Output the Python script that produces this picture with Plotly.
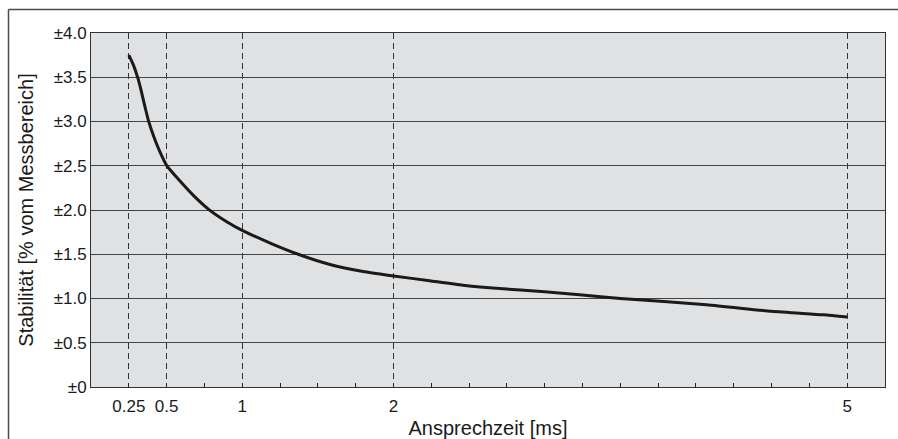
import plotly.graph_objects as go

# Data
response_time_ms = [0.25, 0.28, 0.31, 0.33, 0.355, 0.38, 0.415, 0.45, 0.5, 0.59, 0.68,
                    0.78, 0.9, 1.0, 1.2, 1.37, 1.58, 1.8, 2.0, 2.24, 2.46, 2.68, 3.0,
                    3.23, 3.5, 4.07, 4.5, 4.84, 5.0]
stability_pct = [3.75, 3.64, 3.49, 3.36, 3.18, 3.01, 2.83, 2.68, 2.505, 2.325, 2.16,
                 2.005, 1.865, 1.77, 1.615, 1.50, 1.385, 1.305, 1.255, 1.20, 1.15, 1.115, 1.075,
                 1.043, 1.0, 0.93, 0.855, 0.815, 0.79]

x_tickvals = [0.25, 0.5, 1, 2, 5]
x_ticktext = ["0.25", "0.5", "1", "2", "5"]
y_tickvals = [0, 0.5, 1.0, 1.5, 2.0, 2.5, 3.0, 3.5, 4.0]
y_ticktext = ["±0", "±0.5", "±1.0", "±1.5", "±2.0", "±2.5", "±3.0", "±3.5", "±4.0"]

FONT = "Liberation Sans, Arial, sans-serif"
W, H = 898, 439
ML, MR, MT, MB = 91, 13, 33, 52

fig = go.Figure()
fig.add_trace(go.Scatter(
    x=response_time_ms, y=stability_pct, mode="lines",
    line=dict(color="#1a1a1a", width=3, shape="spline", smoothing=0.6),
    showlegend=False, hoverinfo="skip",
))

fig.update_layout(
    width=W, height=H,
    margin=dict(l=ML, r=MR, t=MT, b=MB, autoexpand=False),
    paper_bgcolor="white",
    plot_bgcolor="#e0e1e3",
    font=dict(family=FONT, color="#1a1a1a", size=17),
    xaxis=dict(
        range=[0, 5.25], tickvals=x_tickvals, ticktext=x_ticktext,
        automargin=False,
        showgrid=True, gridcolor="#333333", gridwidth=1, griddash="6px,4px",
        ticks="inside", ticklen=4, tickcolor="#222", tickwidth=1,
        ticklabelstandoff=4,
        minor=dict(dtick=0.25, tick0=0, ticks="inside", ticklen=4,
                   tickcolor="#222", tickwidth=1, showgrid=False),
        showline=True, linecolor="#333", linewidth=1, mirror=True,
        zeroline=False,
        tickfont=dict(size=17),
        title=dict(text="Ansprechzeit [ms]", font=dict(size=20), standoff=13),
    ),
    yaxis=dict(
        range=[0, 4.0], tickvals=y_tickvals, ticktext=y_ticktext,
        automargin=False,
        showgrid=True, gridcolor="#444444", gridwidth=1.3,
        ticks="", showline=True, linecolor="#333", linewidth=1, mirror=True,
        zeroline=False,
        tickfont=dict(size=17),
        title=dict(text="Stabilität [% vom Messbereich]", font=dict(size=20), standoff=14),
    ),
)

# outer frame (top and left edges) in paper coordinates
pw = W - ML - MR
ph = H - MT - MB
def px_to_paper_x(px):
    return (px - ML) / pw
def px_to_paper_y(py):
    return (H - MB - py) / ph

fx0, fy_top = px_to_paper_x(8.5), px_to_paper_y(9.5)
fig.add_shape(type="line", xref="paper", yref="paper",
              x0=fx0, x1=px_to_paper_x(W + 2), y0=fy_top, y1=fy_top,
              line=dict(color="#4a4a4a", width=1.5))
fig.add_shape(type="line", xref="paper", yref="paper",
              x0=fx0, x1=fx0, y0=fy_top, y1=px_to_paper_y(H + 2),
              line=dict(color="#4a4a4a", width=1.5))

fig.write_html("out.html")
